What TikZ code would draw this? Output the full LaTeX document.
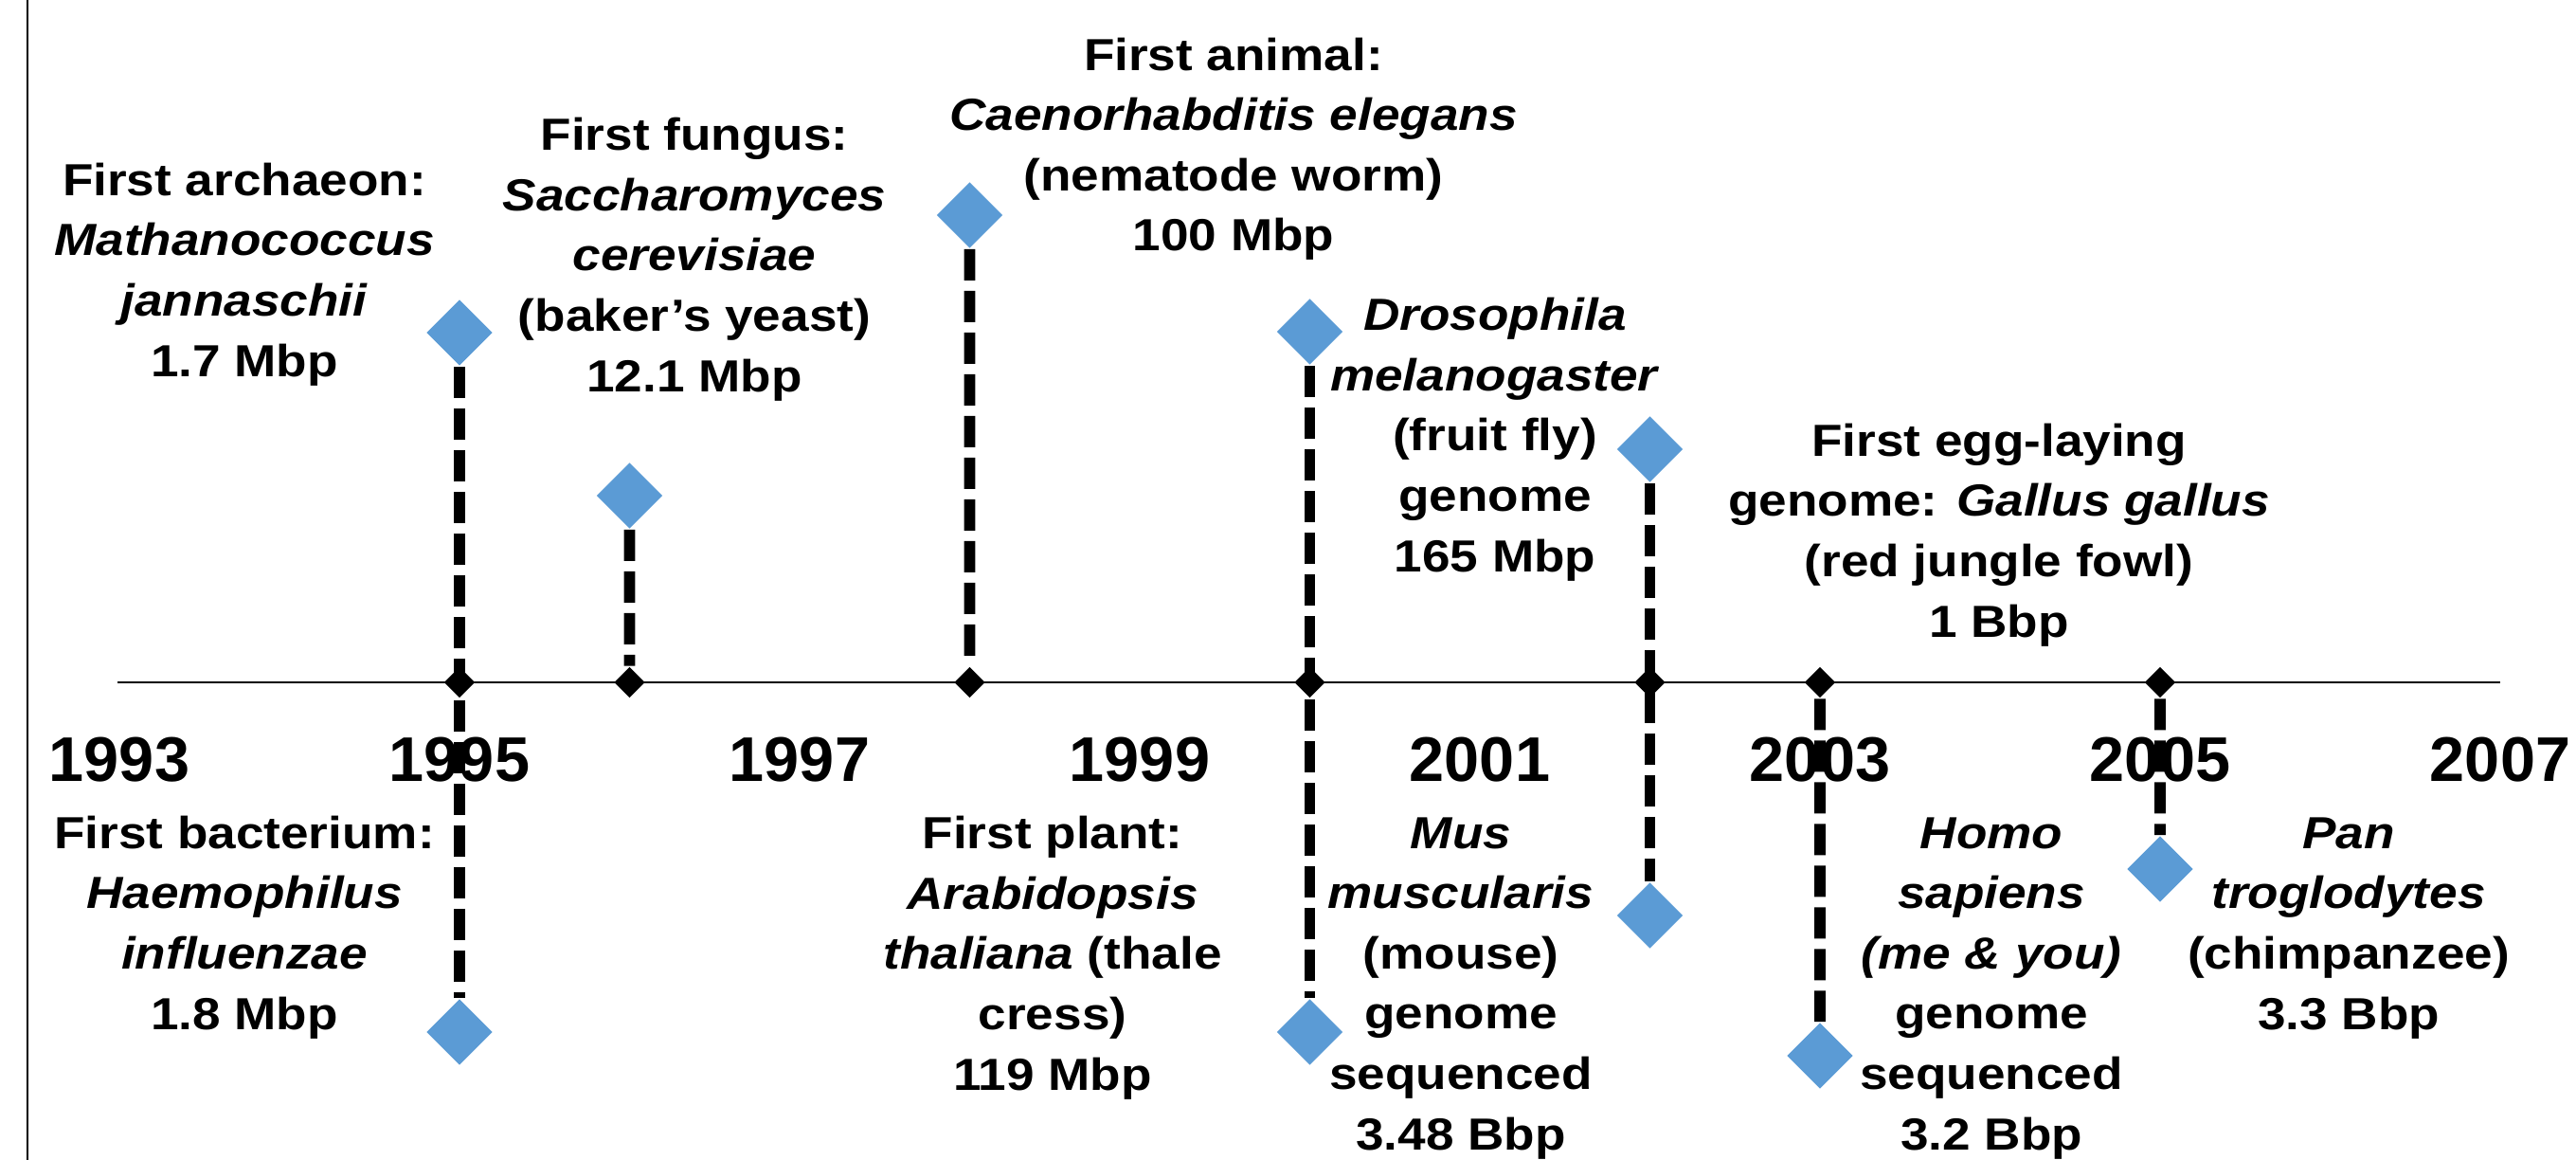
\documentclass[tikz,border=0pt]{standalone}
\usepackage{fontspec}
\setmainfont{Liberation Sans}
\newfontfamily\labelfont{Liberation Sans}[FakeStretch=1.12]
\usetikzlibrary{shapes.geometric}
\definecolor{eventblue}{RGB}{91,155,213}

\begin{document}
\begin{tikzpicture}[line width=0.5pt]
\tikzset{
  event/.style={diamond, fill=eventblue, inner sep=0pt, minimum size=0.7cm},
  axmark/.style={diamond, fill=black, inner sep=0pt, minimum size=0.33cm},
  stem/.style={line width=3.3pt, dash pattern=on 0.33cm off 0.11cm},
  yearlbl/.style={anchor=base, inner sep=0pt, font=\fontsize{18.95}{22}\selectfont\bfseries},
  evlabel/.style={anchor=base, align=center, inner sep=0pt, font=\labelfont\fontsize{13.5}{18.07}\selectfont\bfseries}
}
\useasboundingbox (0,0) rectangle (27.19,-12.24);

\draw[line width=0.4pt] (0.29,0) -- (0.29,-12.24);
\coordinate (axstart) at (1.24,-7.2);
\coordinate (axend) at (26.39,-7.2);
\draw[line width=0.6pt] (axstart) -- (axend);

\foreach \yr [count=\i from 0] in {1993,1995,...,2007}
  \node[yearlbl] (yr\yr) at ({1.26+3.59*\i},-8.24) {\yr};

\foreach \yr in {1995,1996,1998,2000,2002,2003,2005}
  \node[axmark] (ax\yr) at ({1.26+1.795*(\yr-1993)},-7.2) {};

\node[event] (e95a) at (4.85,-3.51) {};
\node[event] (e95b) at (4.85,-10.89) {};
\node[event] (e96) at (6.645,-5.23) {};
\node[event] (e98) at (10.235,-2.27) {};
\node[event] (e00a) at (13.825,-3.50) {};
\node[event] (e00b) at (13.825,-10.89) {};
\node[event] (e02a) at (17.415,-4.74) {};
\node[event] (e02b) at (17.415,-9.66) {};
\node[event] (e03) at (19.21,-11.14) {};
\node[event] (e05) at (22.80,-9.17) {};

\draw[stem] (e95a) -- (e95b);
\draw[stem] (e96) -- (ax1996);
\draw[stem] (e98) -- (ax1998);
\draw[stem] (e00a) -- (e00b);
\draw[stem] (e02a) -- (e02b);
\draw[stem] (ax2003) -- (e03);
\draw[stem] (ax2005) -- (e05);

\node[evlabel] (archaeon) at (2.58,-3.97) {First archaeon:\\ \textit{Mathanococcus}\\ \textit{jannaschii}\\ 1.7 Mbp};
\node[evlabel] (fungus) at (7.33,-4.13) {First fungus:\\ \textit{Saccharomyces}\\ \textit{cerevisiae}\\ (baker’s yeast)\\ 12.1 Mbp};
\node[evlabel] (animal) at (13.02,-2.65) {First animal:\\ \textit{Caenorhabditis elegans}\\ (nematode worm)\\ 100 Mbp};
\node[evlabel] (fly) at (15.78,-6.03) {\textit{Drosophila}\\ \textit{melanogaster}\\ (fruit fly)\\ genome\\ 165 Mbp};
\node[evlabel] (chicken) at (21.10,-6.72) {First egg-laying\\ genome: \textit{Gallus gallus}\\ (red jungle fowl)\\ 1 Bbp};
\node[evlabel] (bacterium) at (2.58,-10.86) {First bacterium:\\ \textit{Haemophilus}\\ \textit{influenzae}\\ 1.8 Mbp};
\node[evlabel] (plant) at (11.11,-11.50) {First plant:\\ \textit{Arabidopsis}\\ \textit{thaliana} (thale\\ cress)\\ 119 Mbp};
\node[evlabel] (mouse) at (15.42,-12.13) {\textit{Mus}\\ \textit{muscularis}\\ (mouse)\\ genome\\ sequenced\\ 3.48 Bbp};
\node[evlabel] (human) at (21.02,-12.13) {\textit{Homo}\\ \textit{sapiens}\\ \textit{(me \& you)}\\ genome\\ sequenced\\ 3.2 Bbp};
\node[evlabel] (chimp) at (24.79,-10.86) {\textit{Pan}\\ \textit{troglodytes}\\ (chimpanzee)\\ 3.3 Bbp};
\end{tikzpicture}
\end{document}
